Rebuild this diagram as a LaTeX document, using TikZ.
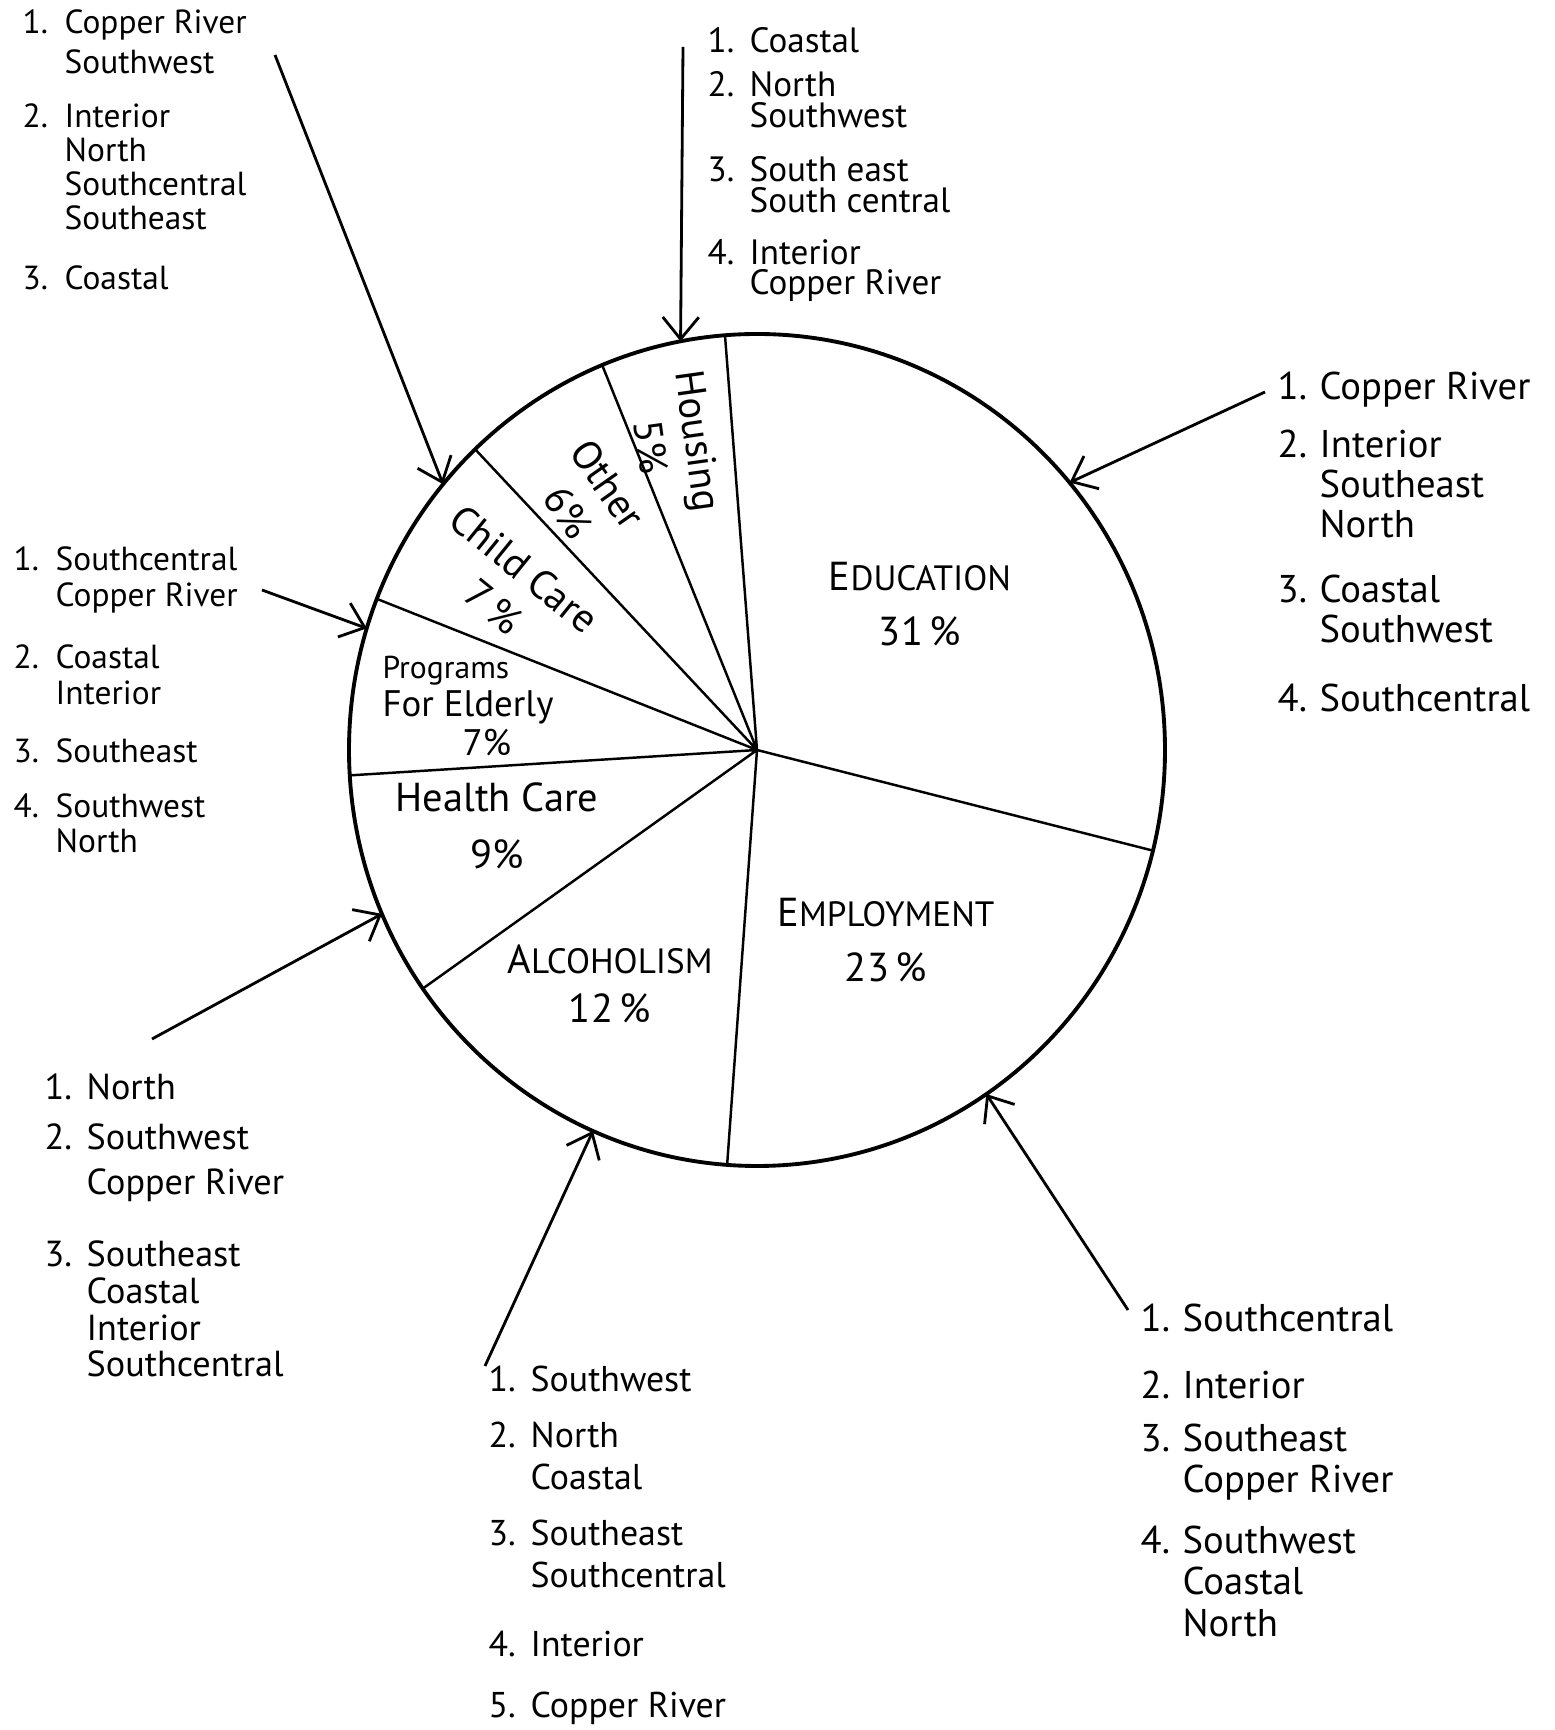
\documentclass[tikz,border=0pt]{standalone}
\usepackage{fontspec}
\setmainfont{PT Sans}
\usetikzlibrary{arrows.meta}
\setlength{\lineskiplimit}{-20pt}
\newcommand{\listno}[1]{\makebox[4.2mm][l]{#1}}
\newcommand{\listin}{\hspace*{4.2mm}}
\newcommand{\lowcaps}[1]{{\fontsize{10}{10}\selectfont #1}}
\tikzstyle{rim} = [line width=1.1pt]
\tikzstyle{spoke} = [line width=0.7pt]
\tikzstyle{slice} = [align=center, inner sep=0pt, font=\fontsize{11.5}{13.8}\selectfont]
\tikzstyle{regions} = [anchor=base west, inner sep=0pt, align=left]
\tikzstyle{pointer} = [line width=0.8pt, -{Straight Barb[length=2.2mm,width=3.6mm]}]

\begin{document}
\begin{tikzpicture}[x=0.1mm, y=0.1mm]
  \useasboundingbox[fill=white] (0,0) rectangle (1554,1730);
  \coordinate (c) at (757,980);
  \draw [rim] (c) ellipse [x radius=408, y radius=416];
  \draw [spoke] (c) -- ++(94.5:408 and 416) (c) -- ++(112.3:408 and 416)
    (c) -- ++(133.7:408 and 416) (c) -- ++(158.7:408 and 416)
    (c) -- ++(183.5:408 and 416) (c) -- ++(215:408 and 416)
    (c) -- ++(265.8:408 and 416) (c) -- ++(346:408 and 416);
  % slices
  \node (edu) [slice] at (920,1126) {E\lowcaps{DUCATION}\\[0.7mm]31\,\%};
  \node (emp) [slice] at (886,790) {E\lowcaps{MPLOYMENT}\\[0.7mm]23\,\%};
  \node (alco) [slice] at (610,746) {A\lowcaps{LCOHOLISM}\\[0.1mm]12\,\%};
  \node (health) [slice] at (497,904) {Health Care\\[0.9mm]9\%};
  \node (elder) [slice, align=left, font=\fontsize{10.5}{11}\selectfont] at (468,1024) {{\fontsize{9}{9}\selectfont Programs}\\For Elderly\\\hspace*{8mm}7\%};
  \node (child) [slice, rotate=-39] at (509,1142) {Child Care\\7\,\%};
  \node (other) [slice, rotate=-55] at (588,1232) {Other\\6\%};
  \node (house) [slice, rotate=-82] at (675,1286) {Housing\\5\%};
  % region lists
  \node (childlist) [regions, font=\fontsize{9.5}{9.7}\selectfont] at (22,1440) {\listno{1.}Copper River\\[0.6mm]\listin Southwest\\[2mm]\listno{2.}Interior\\ \listin North\\ \listin Southcentral\\ \listin Southeast\\[2.6mm]\listno{3.}Coastal};
  \node (houselist) [regions, font=\fontsize{10}{8.8}\selectfont] at (707,1435) {\listno{1.}Coastal\\[1.3mm]\listno{2.}North\\ \listin Southwest\\[2.3mm]\listno{3.}South east\\ \listin South central\\[2.1mm]\listno{4.}Interior\\ \listin Copper River};
  \node (edulist) [regions, font=\fontsize{11}{11.4}\selectfont] at (1277,1018) {\listno{1.}Copper River\\[1.8mm]\listno{2.}Interior\\ \listin Southeast\\ \listin North\\[2.5mm]\listno{3.}Coastal\\ \listin Southwest\\[2.9mm]\listno{4.}Southcentral};
  \node (elderlist) [regions, font=\fontsize{9.5}{10.2}\selectfont] at (13,877) {\listno{1.}Southcentral\\ \listin Copper River\\[2.6mm]\listno{2.}Coastal\\ \listin Interior\\[2.2mm]\listno{3.}Southeast\\[1.9mm]\listno{4.}Southwest\\ \listin North};
  \node (healthlist) [regions, font=\fontsize{10.3}{10.5}\selectfont] at (44,353) {\listno{1.}North\\[1.3mm]\listno{2.}Southwest\\[0.8mm]\listin Copper River\\[3.5mm]\listno{3.}Southeast\\ \listin Coastal\\ \listin Interior\\ \listin Southcentral};
  \node (alcolist) [regions, font=\fontsize{10.2}{12}\selectfont] at (488,12) {\listno{1.}Southwest\\[1.3mm]\listno{2.}North\\ \listin Coastal\\[1.4mm]\listno{3.}Southeast\\ \listin Southcentral\\[2.7mm]\listno{4.}Interior\\[1.9mm]\listno{5.}Copper River};
  \node (emplist) [regions, font=\fontsize{11}{11.7}\selectfont] at (1140,94) {\listno{1.}Southcentral\\[2.6mm]\listno{2.}Interior\\[1.2mm]\listno{3.}Southeast\\ \listin Copper River\\[2mm]\listno{4.}Southwest\\ \listin Coastal\\ \listin North};
  % arrows
  \path (c) ++(140.3:408 and 416) coordinate (childtip) (c) ++(100.8:408 and 416) coordinate (housetip)
    (c) ++(40:408 and 416) coordinate (edutip) (c) ++(163:408 and 416) coordinate (eldertip)
    (c) ++(203.2:408 and 416) coordinate (healthtip) (c) ++(246.3:408 and 416) coordinate (alcotip)
    (c) ++(304.2:408 and 416) coordinate (emptip);
  \coordinate (childtail) at (275,1675);
  \coordinate (housetail) at (683,1683);
  \coordinate (edutail) at (1265,1338);
  \coordinate (eldertail) at (262,1140);
  \coordinate (healthtail) at (152,691);
  \coordinate (alcotail) at (485,364);
  \coordinate (emptail) at (1128,420);
  \draw [pointer] (childtail) -- (childtip);
  \draw [pointer] (housetail) -- (housetip);
  \draw [pointer] (edutail) -- (edutip);
  \draw [pointer] (eldertail) -- (eldertip);
  \draw [pointer] (healthtail) -- (healthtip);
  \draw [pointer] (alcotail) -- (alcotip);
  \draw [pointer] (emptail) -- (emptip);
\end{tikzpicture}
\end{document}
